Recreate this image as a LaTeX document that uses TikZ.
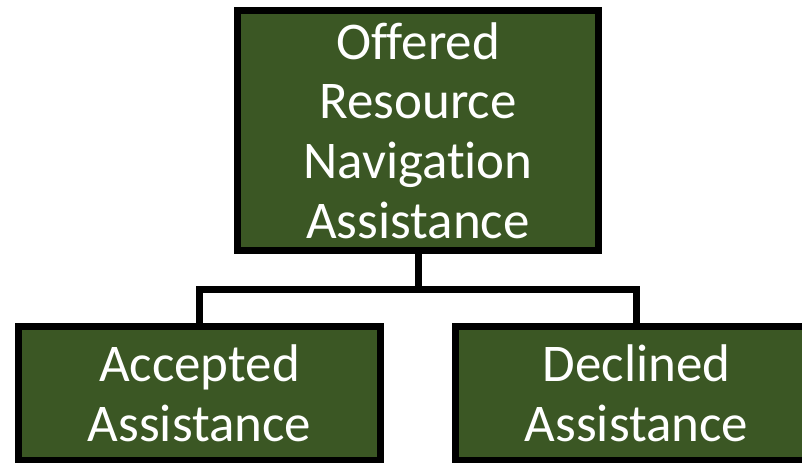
\documentclass[tikz,border=0pt]{standalone}
\usepackage{fontspec}
\setmainfont{Carlito}[RawFeature=-liga]
\usepackage{tikz}
\usetikzlibrary{positioning, calc}
\definecolor{boxgreen}{RGB}{59,87,36}
\tikzset{
	greenbox/.style={draw=black, line width=3.5pt, fill=boxgreen, text=white,
		align=center, font=\fontsize{26.5}{29.8}\selectfont}
}
\tikzset{
	linkline/.style={draw=black, line width=3.5pt, line join=miter}
}

\begin{document}
\begin{tikzpicture}[x=0.5pt, y=0.5pt]
      \useasboundingbox (0,0) rectangle (802,462);
      \node[greenbox, minimum width=180.5pt, minimum height=120pt] (offered) at (418,331.5)
        {Offered\\Resource\\Navigation\\Assistance};
      \node[greenbox, minimum width=181pt, minimum height=67pt] (accepted) at (199.5,68.5)
        {Accepted\\Assistance};
      \node[greenbox, minimum width=181pt, minimum height=67pt] (declined) at (636.5,68.5)
        {Declined\\Assistance};
      % branch from the top box down to both outcomes
      \coordinate (split) at (418,173);
      \draw[linkline] (offered.south) -- (split);
      \draw[linkline] (accepted.north) |- (split) -| (declined.north);
    \end{tikzpicture}
\end{document}
